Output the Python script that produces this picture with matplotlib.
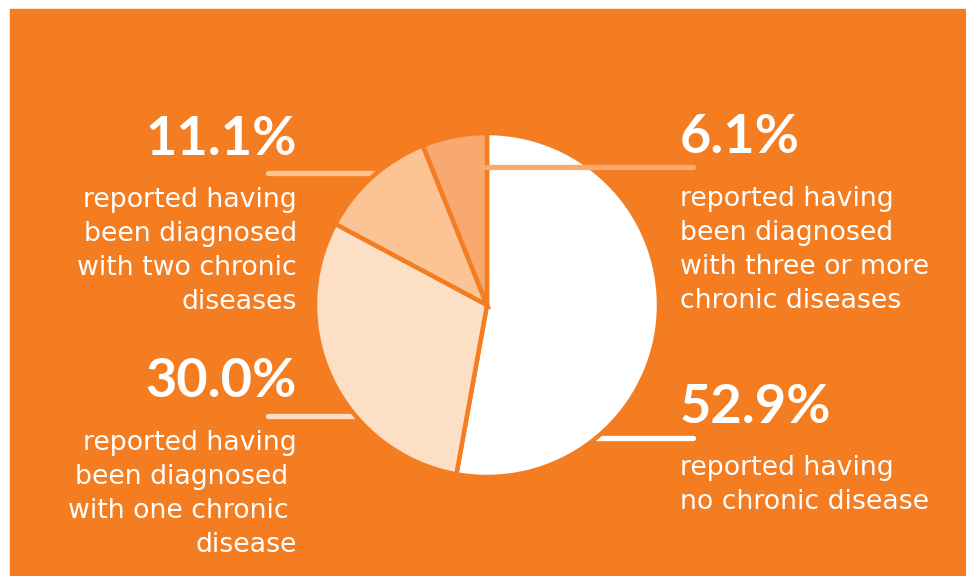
import matplotlib.pyplot as plt
from matplotlib.patches import Rectangle

W, H = 966, 576

# share of respondents by number of chronic diseases
shares = [52.9, 30.0, 11.1, 6.1]
pct_labels = ["52.9%", "30.0%", "11.1%", "6.1%"]
descriptions = [
    ["reported having", "no chronic disease"],
    ["reported having", "been diagnosed ", "with one chronic ", "disease"],
    ["reported having", "been diagnosed", "with two chronic", "diseases"],
    ["reported having", "been diagnosed", "with three or more", "chronic diseases"],
]

orange = "#F47D22"
wedge_colors = ["#FFFFFF", "#FDDFC5", "#FCC495", "#F9A870"]

plt.rcParams["font.family"] = ["Lato", "DejaVu Sans"]

fig = plt.figure(figsize=(W / 100, H / 100), dpi=100)
fig.patch.set_facecolor("white")
ax = fig.add_axes([0, 0, 1, 1])

def Y(py):
    # pixel rows are counted from the top
    return H - py

ax.add_patch(Rectangle((10, 0), W - 10, Y(9), color=orange, zorder=0))

cx, cy, r = 487, Y(305), 172
wedges, _ = ax.pie(shares, colors=wedge_colors, startangle=90, counterclock=False,
                   center=(cx, cy), radius=r,
                   wedgeprops=dict(edgecolor=orange, linewidth=3.2))
for w in wedges:
    w.set_zorder(2)

ax.set_xlim(0, W)
ax.set_ylim(0, H)
ax.set_aspect("equal")
ax.axis("off")

# leader lines: (x0, x1, y, zorder)
leaders = [
    (560, 693, 438, 1),
    (400, 268, 416, 1),
    (400, 268, 173, 1),
    (485, 693, 167, 3),
]
for (x0, x1, y, z), col in zip(leaders, wedge_colors):
    ax.plot([x0, x1], [Y(y), Y(y)], color=col, lw=3.8, solid_capstyle="round", zorder=z)

# label blocks: (x, align, percent baseline, first description baseline)
blocks = [
    (680, "left", 423, 475),
    (297, "right", 397, 450),
    (297, "right", 155, 207),
    (680, "left", 153, 206),
]
for (x, ha, pb, db), pct, lines in zip(blocks, pct_labels, descriptions):
    ax.text(x, Y(pb), pct, ha=ha, va="baseline", color="white",
            fontsize=39, fontweight="bold", zorder=4)
    for i, line in enumerate(lines):
        ax.text(x, Y(db + i * 34), line, ha=ha, va="baseline", color="white",
                fontsize=19.3, family="DejaVu Sans", zorder=4)

fig.savefig("out.png", dpi=100, facecolor=fig.get_facecolor())
